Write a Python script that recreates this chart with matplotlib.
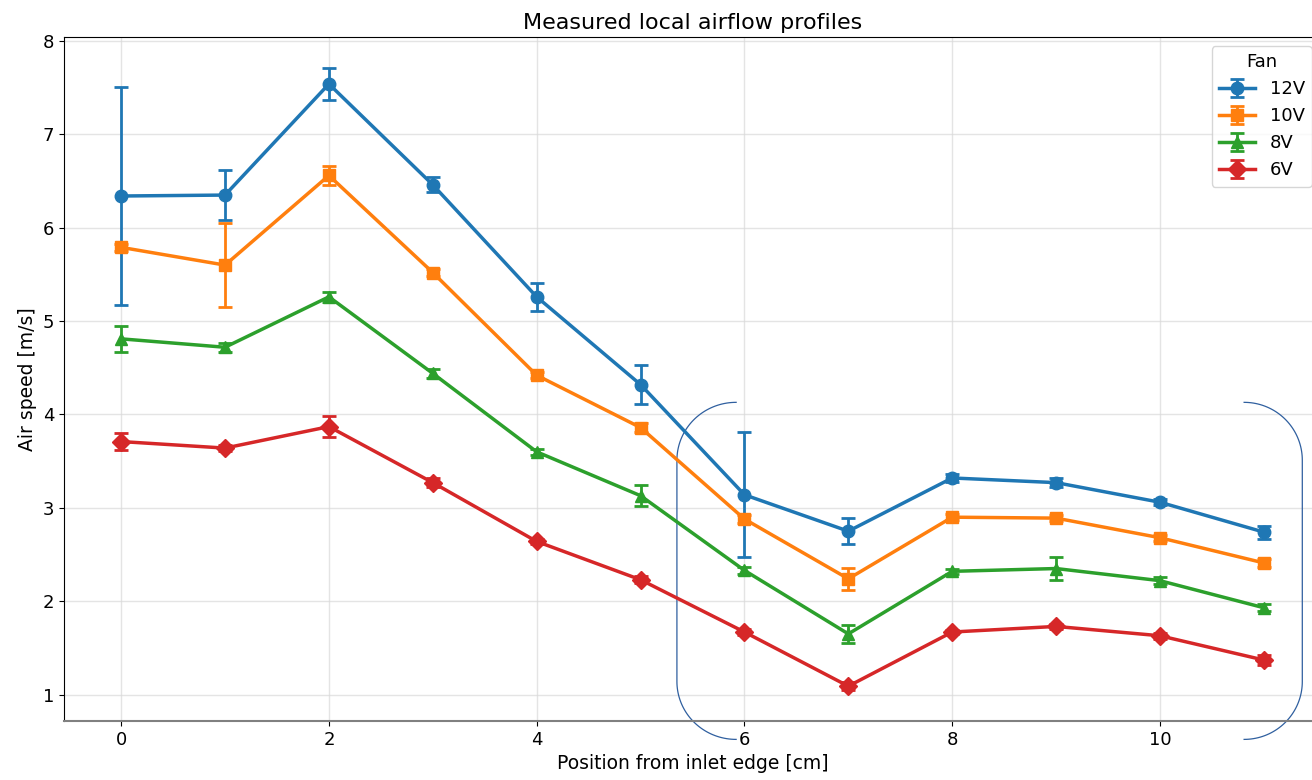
import numpy as np
import matplotlib
matplotlib.use("Agg")
import matplotlib.pyplot as plt

positions = list(range(12))

fans = ["12V", "10V", "8V", "6V"]
markers = ["o", "s", "^", "D"]
colors = ["#1f77b4", "#ff7f0e", "#2ca02c", "#d62728"]

speed_12v = [6.34, 6.35, 7.54, 6.46, 5.26, 4.32, 3.14, 2.75, 3.32, 3.27, 3.06, 2.74]
err_12v = [1.17, 0.27, 0.17, 0.08, 0.15, 0.21, 0.67, 0.14, 0.04, 0.05, 0.03, 0.07]

speed_10v = [5.79, 5.60, 6.56, 5.52, 4.42, 3.86, 2.88, 2.24, 2.90, 2.89, 2.68, 2.41]
err_10v = [0.04, 0.45, 0.10, 0.04, 0.03, 0.05, 0.04, 0.12, 0.03, 0.03, 0.03, 0.04]

speed_8v = [4.81, 4.72, 5.26, 4.44, 3.60, 3.13, 2.33, 1.65, 2.32, 2.35, 2.22, 1.93]
err_8v = [0.14, 0.05, 0.05, 0.05, 0.03, 0.11, 0.04, 0.10, 0.03, 0.12, 0.04, 0.04]

speed_6v = [3.71, 3.64, 3.87, 3.27, 2.64, 2.23, 1.67, 1.09, 1.67, 1.73, 1.63, 1.37]
err_6v = [0.09, 0.03, 0.11, 0.05, 0.03, 0.04, 0.03, 0.04, 0.02, 0.03, 0.03, 0.05]

speeds = [speed_12v, speed_10v, speed_8v, speed_6v]
errs = [err_12v, err_10v, err_8v, err_6v]

# bracket annotation around the downstream region (data units)
bracket_left = (5.92, 5.35)   # end x, outer x
bracket_right = (10.81, 11.37)
bracket_top, bracket_bottom = 4.13, 0.52
bracket_ry = 0.62

fig = plt.figure(figsize=(13.12, 7.8), dpi=100)
ax = fig.add_axes([64 / 1312, 59 / 780, 1257 / 1312, 684 / 780])

for name, m, c, y, e in zip(fans, markers, colors, speeds, errs):
    ax.errorbar(positions, y, yerr=e, marker=m, color=c, label=name,
                linewidth=2.5, markersize=9, capsize=5, elinewidth=2, capthick=2)

ax.grid(True, color="#d9d9d9", linewidth=1, alpha=0.7)
ax.set_axisbelow(True)
ax.set_title("Measured local airflow profiles", fontsize=16)
ax.set_xlabel("Position from inlet edge [cm]", fontsize=13.5)
ax.set_ylabel("Air speed [m/s]", fontsize=13.5)
ax.tick_params(labelsize=13)
ax.spines["bottom"].set_color("#808080")
ax.spines["bottom"].set_linewidth(1.5)

ax.legend(title="Fan", loc="upper right", fontsize=13, title_fontsize=13)

# freeze limits so the brackets don't widen them
xl = ax.get_xlim()
yl = ax.get_ylim()


def bracket(ax, x_end, x_out):
    rx = x_end - x_out
    t = np.linspace(0, np.pi / 2, 40)
    top_x = x_end - rx * np.sin(t)
    top_y = bracket_top - bracket_ry * (1 - np.cos(t))
    bot_x = x_out + rx * (1 - np.cos(t))
    bot_y = bracket_bottom + bracket_ry - bracket_ry * np.sin(t)
    xs = np.concatenate([top_x, bot_x])
    ys = np.concatenate([top_y, bot_y])
    ax.plot(xs, ys, color="#2f5f9f", linewidth=0.9, clip_on=False)


bracket(ax, *bracket_left)
bracket(ax, *bracket_right)
ax.set_xlim(xl)
ax.set_ylim(yl)

fig.savefig("out.png", dpi=100)
